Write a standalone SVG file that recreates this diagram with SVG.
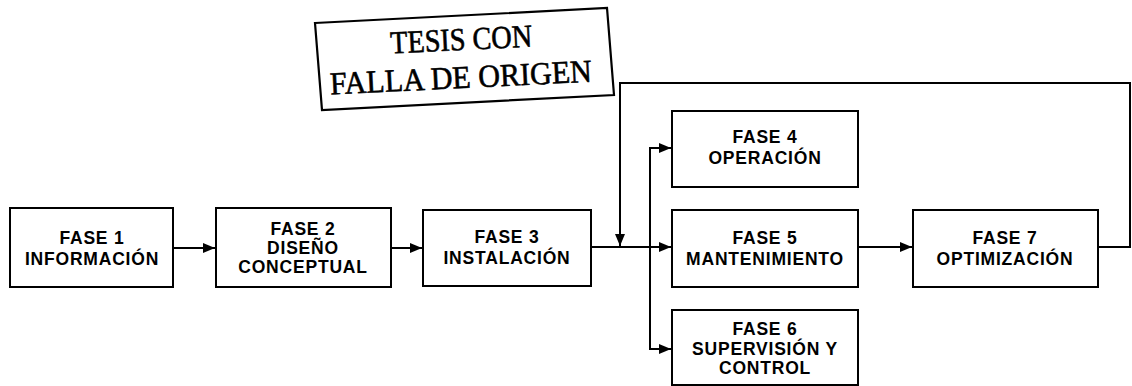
<svg xmlns="http://www.w3.org/2000/svg" width="1132" height="386" viewBox="0 0 1132 386">
<defs>
<marker id="ah" viewBox="0 0 12 10" refX="12" refY="5" markerWidth="12" markerHeight="10" markerUnits="userSpaceOnUse" orient="auto">
<path d="M0,0 L12,5 L0,10 Z" fill="#000"/>
</marker>
</defs>
<style>
.box{fill:#fff;stroke:#000;stroke-width:2}
.lbl{font-family:"Liberation Sans",Arial,sans-serif;font-size:17.5px;font-weight:bold;letter-spacing:0.8px;text-anchor:middle;fill:#000}
.con{fill:none;stroke:#000;stroke-width:2}
.stamp{font-family:"Liberation Serif","Times New Roman",serif;font-size:32px;fill:#000;stroke:#000;stroke-width:0.6}
</style>
<rect width="1132" height="386" fill="#fff"/>
<g id="stamp">
<polygon points="315,23 607,8 614,95 322,110" fill="none" stroke="#000" stroke-width="2.2"/>
<g transform="rotate(-2.8 462 58)">
<text class="stamp" x="391" y="50" textLength="142" lengthAdjust="spacingAndGlyphs">TESIS CON</text>
<text class="stamp" x="329" y="88" textLength="262" lengthAdjust="spacingAndGlyphs">FALLA DE ORIGEN</text>
</g>
</g>
<g id="fase1">
<rect class="box" x="10" y="208" width="163" height="79"/>
<text class="lbl" x="92" y="244">FASE 1</text>
<text class="lbl" x="92" y="265">INFORMACIÓN</text>
</g>
<g id="fase2">
<rect class="box" x="216" y="208" width="175" height="79"/>
<text class="lbl" x="303" y="235">FASE 2</text>
<text class="lbl" x="303" y="254">DISEÑO</text>
<text class="lbl" x="303" y="273">CONCEPTUAL</text>
</g>
<g id="fase3">
<rect class="box" x="423" y="210" width="168" height="76"/>
<text class="lbl" x="507" y="243">FASE 3</text>
<text class="lbl" x="507" y="264">INSTALACIÓN</text>
</g>
<g id="fase4">
<rect class="box" x="672" y="111" width="186" height="76"/>
<text class="lbl" x="765" y="143">FASE 4</text>
<text class="lbl" x="765" y="164">OPERACIÓN</text>
</g>
<g id="fase5">
<rect class="box" x="672" y="210" width="186" height="77"/>
<text class="lbl" x="765" y="244">FASE 5</text>
<text class="lbl" x="765" y="265">MANTENIMIENTO</text>
</g>
<g id="fase6">
<rect class="box" x="672" y="310" width="186" height="75"/>
<text class="lbl" x="765" y="335">FASE 6</text>
<text class="lbl" x="765" y="355">SUPERVISIÓN Y</text>
<text class="lbl" x="765" y="374">CONTROL</text>
</g>
<g id="fase7">
<rect class="box" x="913" y="210" width="185" height="77"/>
<text class="lbl" x="1005" y="244">FASE 7</text>
<text class="lbl" x="1005" y="265">OPTIMIZACIÓN</text>
</g>
<g id="connectors">
<line class="con" x1="173" y1="248" x2="215" y2="248" marker-end="url(#ah)"/>
<line class="con" x1="391" y1="248" x2="422" y2="248" marker-end="url(#ah)"/>
<line class="con" x1="591" y1="247" x2="671" y2="247" marker-end="url(#ah)"/>
<polyline class="con" points="650,247 650,148 671,148" marker-end="url(#ah)"/>
<polyline class="con" points="650,247 650,349 671,349" marker-end="url(#ah)"/>
<line class="con" x1="858" y1="247" x2="912" y2="247" marker-end="url(#ah)"/>
<polyline class="con" points="1098,247 1130,247 1130,83 620,83 620,246" marker-end="url(#ah)"/>
</g>
</svg>
